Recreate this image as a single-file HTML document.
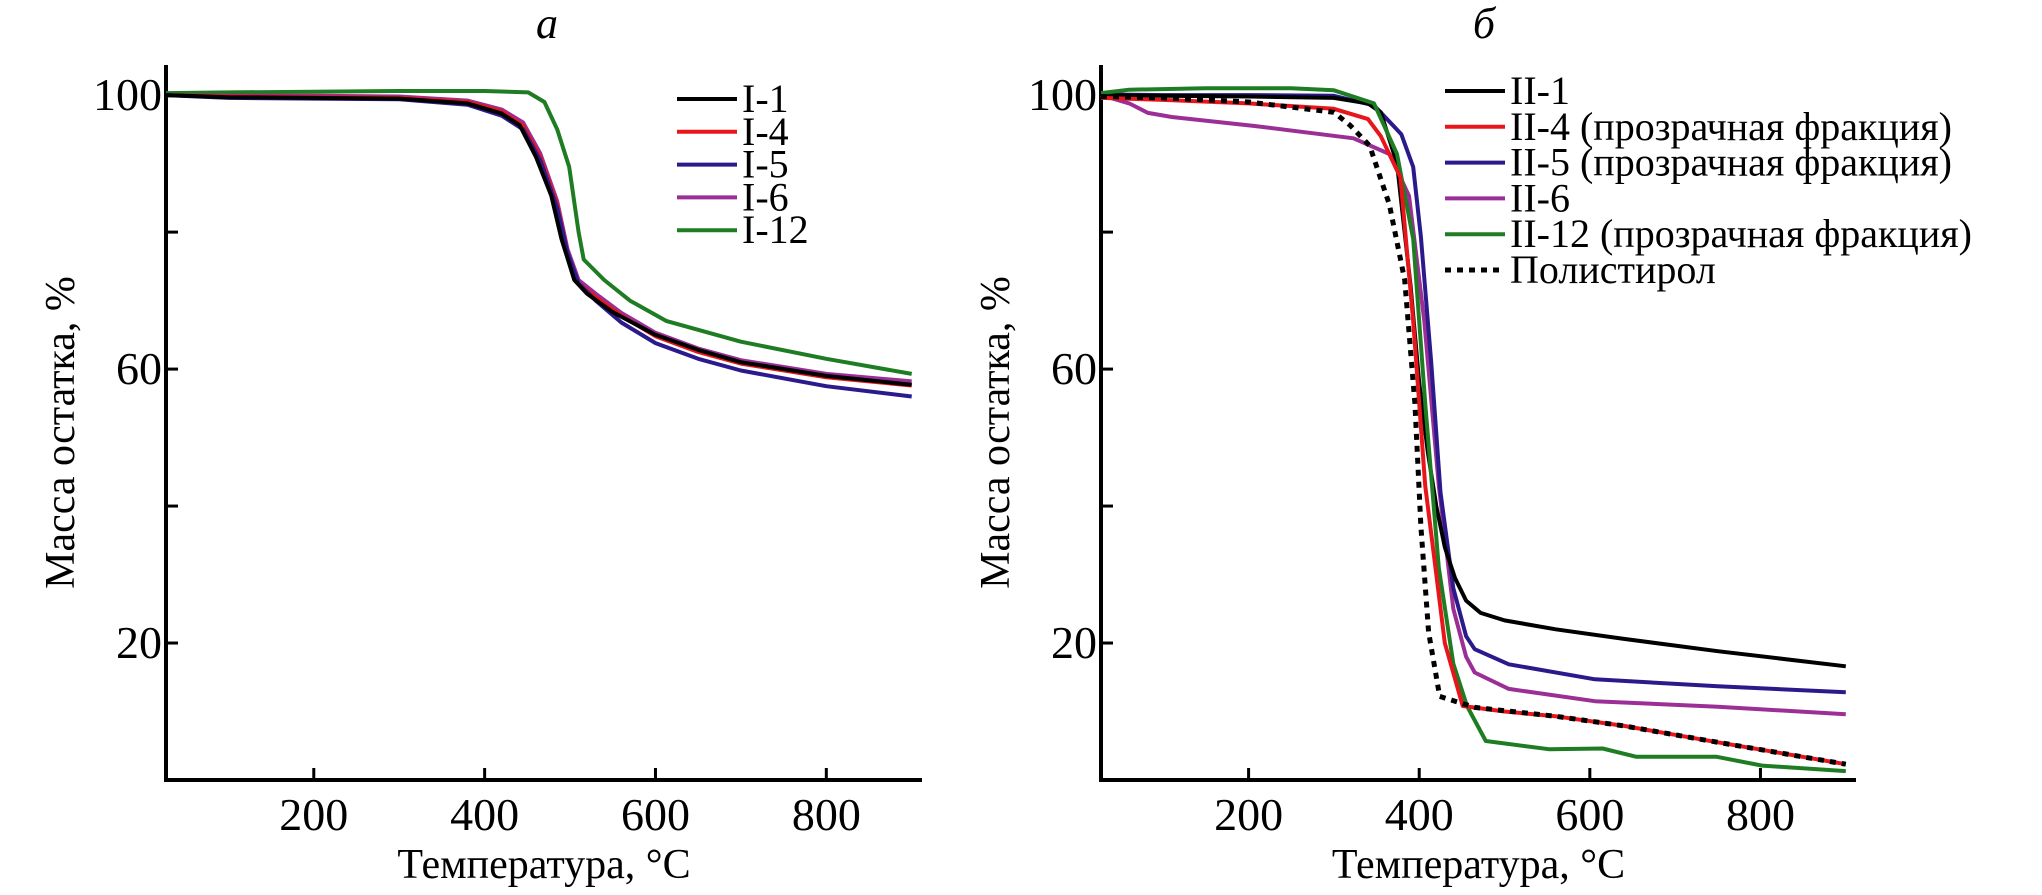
<!DOCTYPE html>
<html><head><meta charset="utf-8">
<style>
body{margin:0;background:#fff;}
svg{display:block;font-family:"Liberation Serif","Times New Roman",serif;}
svg text{font-family:"Liberation Serif","Times New Roman",serif;}
</style></head>
<body>
<svg id="chart" width="2042" height="895" viewBox="0 0 2042 895" font-family="Liberation Serif, serif"></svg>
<script>
const yTicksLabeled = [100, 60, 20];
const yTicksMinor = [80, 40];
const xTicks = [200, 400, 600, 800];
const seriesNamesA = ["I-1","I-4","I-5","I-6","I-12"];
const seriesNamesB = ["II-1","II-4 (прозрачная фракция)","II-5 (прозрачная фракция)","II-6","II-12 (прозрачная фракция)","Полистирол"];
const a_I1 = [[27,100],[100,99.7],[200,99.6],[300,99.5],[380,98.8],[420,97.3],[441,95.6],[460,91],[478,85.3],[490,79],[505,73],[520,71],[550,68.3],[600,65],[650,62.8],[700,61],[800,59],[900,57.7]];
const a_I4 = [[27,100],[100,99.8],[200,99.7],[300,99.6],[380,99],[420,97.6],[445,95.5],[465,91],[485,84],[497,77],[510,72.5],[530,70.5],[560,67.8],[600,64.8],[650,62.5],[700,60.8],[800,58.8],[900,57.6]];
const a_I5 = [[27,100],[100,99.6],[200,99.5],[300,99.4],[380,98.6],[420,97],[445,95],[465,90.5],[485,83.5],[497,77],[510,72.5],[530,70],[560,66.8],[600,63.8],[650,61.5],[700,59.8],[800,57.5],[900,56]];
const a_I6 = [[27,100],[100,99.9],[200,99.9],[300,99.8],[380,99.2],[420,97.9],[445,96],[465,91.5],[485,84.5],[497,77.5],[510,73],[530,71],[560,68.2],[600,65.3],[650,63],[700,61.3],[800,59.3],[900,58.2]];
const a_I12 = [[27,100.3],[100,100.4],[200,100.5],[300,100.6],[400,100.6],[451,100.4],[470,99],[485,95],[499,89.5],[510,80],[516,76],[540,73],[570,70],[613,67],[700,64],[800,61.5],[900,59.3]];
const b_II1 = [[27,100],[100,99.9],[200,99.8],[300,99.6],[340,98.8],[355,97.5],[374,90],[390,72],[400,58],[410,48],[420,40],[430,34],[442,29.5],[455,26.2],[472,24.4],[500,23.3],[560,22],[640,20.6],[750,18.8],[900,16.6]];
const b_II4 = [[27,99.6],[100,99.3],[200,98.8],[300,98],[340,96.5],[355,94],[378,88],[393,67],[407,43],[416,34],[430,20],[451,10.8],[500,10],[560,9.3],[640,7.9],[750,5.5],[900,2.3]];
const b_II5 = [[27,100.1],[100,100],[200,100],[300,99.9],[347,98.5],[379,94.3],[393,89.5],[402,79.3],[414,61],[425,42],[440,28],[455,21],[465,19.1],[505,16.9],[606,14.7],[750,13.7],[900,12.8]];
const b_II6 = [[27,100],[60,98.8],[82,97.4],[110,96.8],[207,95.5],[323,93.7],[365,91.4],[388,85.3],[406,67],[423,43],[440,25],[455,18],[465,15.7],[505,13.3],[606,11.5],[750,10.7],[900,9.6]];
const b_II12 = [[27,100.3],[60,100.8],[150,101],[250,101],[300,100.7],[347,98.8],[374,91.4],[393,79],[407,55],[423,31],[440,17],[456,10.8],[478,5.7],[552,4.5],[615,4.6],[654,3.4],[748,3.4],[802,2.1],[900,1.3]];
const b_PS = [[27,99.8],[100,99.6],[200,99],[300,97.5],[319,95.6],[342,92.6],[365,84],[383,73],[395,55],[402,37],[411,21.6],[424,12.2],[465,10.6],[560,9.3],[640,7.9],[750,5.5],[900,2.3]];

const NS="http://www.w3.org/2000/svg";
const svg=document.getElementById('chart');
const FONT='Liberation Serif, Times New Roman, serif';
function mk(tag,attrs,parent){const e=document.createElementNS(NS,tag);for(const k in attrs)e.setAttribute(k,attrs[k]);if(tag==='text')e.setAttribute('font-family',FONT);(parent||svg).appendChild(e);return e;}
const X0=27,X1=912,Y0=0,Y1=104.4;
const panels=[{left:166,right:922},{left:1101,right:1856}];
const PLOT_TOP=65,PLOT_BOTTOM=780;
function sx(p,t){return p.left+(t-X0)/(X1-X0)*(p.right-p.left);}
function sy(v){return PLOT_BOTTOM-(v-Y0)/(Y1-Y0)*(PLOT_BOTTOM-PLOT_TOP);}

function drawAxes(p,g){
  const ax=mk('path',{d:`M${p.left},${PLOT_TOP}V${PLOT_BOTTOM}H${p.right}`,fill:'none',stroke:'#000','stroke-width':4},g);
  
  
  yTicksLabeled.concat(yTicksMinor).forEach(v=>{
    const t=mk('line',{x1:p.left,x2:p.left+12,y1:sy(v),y2:sy(v),stroke:'#000','stroke-width':3},g);
    
    
  });
  yTicksLabeled.forEach(v=>{
    const t=mk('text',{x:p.left-4,y:sy(v)+15,'text-anchor':'end','font-size':46},g);
    t.textContent=v;
    
    
  });
  xTicks.forEach(v=>{
    const t=mk('line',{x1:sx(p,v),x2:sx(p,v),y1:PLOT_BOTTOM,y2:PLOT_BOTTOM-12,stroke:'#000','stroke-width':3},g);
    
    
    const l=mk('text',{x:sx(p,v),y:PLOT_BOTTOM+50,'text-anchor':'middle','font-size':46},g);
    l.textContent=v;
    
    
  });
  const xt=mk('text',{x:(p.left+p.right)/2,y:PLOT_BOTTOM+98,'text-anchor':'middle','font-size':42},g);
  xt.textContent='Температура, °C';
  
  
  const yt=mk('text',{x:0,y:0,'text-anchor':'middle','font-size':42,transform:`translate(${p.left-92},${(PLOT_TOP+PLOT_BOTTOM)/2+10}) rotate(-90)`},g);
  yt.textContent='Масса остатка, %';
  
  
}
function drawLine(p,g,data,color,dash){
  const pts=data.map(d=>sx(p,d[0]).toFixed(1)+','+sy(d[1]).toFixed(1)).join(' ');
  const a={points:pts,fill:'none',stroke:color,'stroke-width':dash?5:4,'stroke-linejoin':'round'};
  if(dash)a['stroke-dasharray']='6 6';
  const l=mk('polyline',a,g);
  
  
}
function legend(g,names,colors,dashes,x,y0,dy){
  names.forEach((n,i)=>{
    const y=y0+i*dy;
    const a={x1:x,x2:x+60,y1:y,y2:y,stroke:colors[i],'stroke-width':dashes[i]?5:4};
    if(dashes[i])a['stroke-dasharray']='6 6';
    const l=mk('line',a,g);
    
    
    const t=mk('text',{x:x+65,y:y+13,'font-size':40},g);
    t.textContent=n;
    
    
  });
}
const C={k:'#000',r:'#e8161b',b:'#2b1a8c',p:'#9b2f96',g:'#1e7d22'};

const gA=mk('g',{});


drawAxes(panels[0],gA);
[[a_I12,C.g],[a_I6,C.p],[a_I4,C.r],[a_I5,C.b],[a_I1,C.k]].forEach(s=>drawLine(panels[0],gA,s[0],s[1]));
legend(gA,seriesNamesA,[C.k,C.r,C.b,C.p,C.g],[0,0,0,0,0],677,99,32.8);
const ta=mk('text',{x:547,y:38,'text-anchor':'middle','font-size':44,'font-style':'italic'},gA);
ta.textContent='а';



const gB=mk('g',{});


drawAxes(panels[1],gB);
[[b_II6,C.p],[b_II5,C.b],[b_II1,C.k],[b_II12,C.g],[b_II4,C.r]].forEach(s=>drawLine(panels[1],gB,s[0],s[1]));
drawLine(panels[1],gB,b_PS,C.k,true);
legend(gB,seriesNamesB,[C.k,C.r,C.b,C.p,C.g,C.k],[0,0,0,0,0,1],1445,91,35.8);
const tb=mk('text',{x:1484,y:38,'text-anchor':'middle','font-size':44,'font-style':'italic'},gB);
tb.textContent='б';


</script>
</body></html>
